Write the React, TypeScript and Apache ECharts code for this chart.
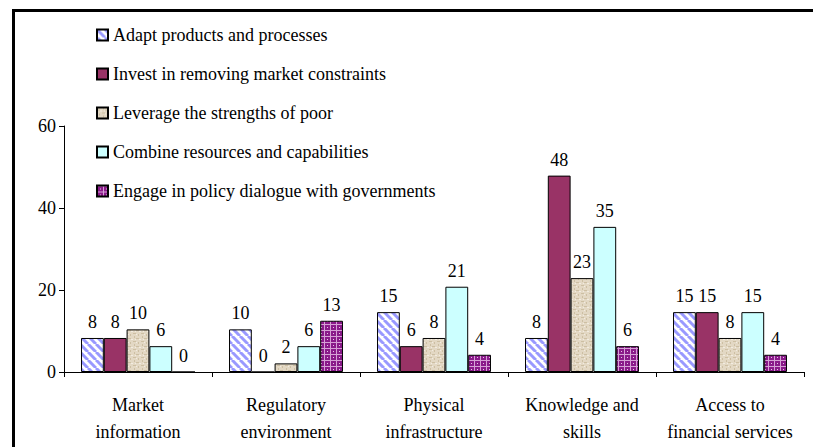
import React, { useEffect, useRef } from "react";
import * as echarts from "echarts";

const categories = [
  "Market\ninformation",
  "Regulatory\nenvironment",
  "Physical\ninfrastructure",
  "Knowledge and\nskills",
  "Access to\nfinancial services",
];

const seriesNames = [
  "Adapt products and processes",
  "Invest in removing market constraints",
  "Leverage the strengths of poor",
  "Combine resources and capabilities",
  "Engage in policy dialogue with governments",
];

const adaptValues = [8.3, 10.4, 14.6, 8.3, 14.6];
const investValues = [8.3, 0, 6.3, 47.9, 14.6];
const leverageValues = [10.4, 2.1, 8.3, 22.9, 8.3];
const combineValues = [6.3, 6.3, 20.8, 35.4, 14.6];
const engageValues = [0, 12.5, 4.2, 6.3, 4.2];

const yTicks = { min: 0, max: 60, interval: 20 };

const FONT = "Liberation Serif, DejaVu Serif, serif";

function makeCanvas(w: number, h: number, draw: (c: CanvasRenderingContext2D) => void) {
  const cv = document.createElement("canvas");
  cv.width = w;
  cv.height = h;
  const ctx = cv.getContext("2d")!;
  draw(ctx);
  return cv;
}

function stripePattern() {
  const n = 8;
  const cv = makeCanvas(n, n, (c) => {
    c.fillStyle = "#ffffff";
    c.fillRect(0, 0, n, n);
    c.strokeStyle = "#9999ff";
    c.lineWidth = 3;
    for (const x0 of [-n, 0, n]) {
      c.beginPath();
      c.moveTo(x0, 0);
      c.lineTo(x0 + n, n);
      c.stroke();
    }
  });
  return { image: cv, repeat: "repeat", imageWidth: n, imageHeight: n };
}

function texturePattern() {
  const n = 8;
  const cv = makeCanvas(n, n, (c) => {
    c.fillStyle = "#e3d8c4";
    c.fillRect(0, 0, n, n);
    c.fillStyle = "#cdbfa3";
    c.fillRect(0, 2, 3, 1);
    c.fillRect(5, 5, 3, 1);
    c.fillRect(2, 6, 1, 2);
    c.fillRect(6, 0, 1, 2);
    c.fillStyle = "#f2ece1";
    c.fillRect(3, 3, 2, 1);
    c.fillRect(0, 6, 1, 1);
    c.fillRect(7, 3, 1, 1);
  });
  return { image: cv, repeat: "repeat", imageWidth: n, imageHeight: n };
}

function dotPattern() {
  const n = 6;
  const cv = makeCanvas(n, n, (c) => {
    c.fillStyle = "#8a1a8a";
    c.fillRect(0, 0, n, n);
    c.fillStyle = "#d6a0d6";
    c.fillRect(0, 0, n, 1);
    c.fillRect(0, 0, 1, n);
    c.fillStyle = "#e8c4e8";
    c.fillRect(3, 3, 1, 1);
  });
  return { image: cv, repeat: "repeat", imageWidth: n, imageHeight: n };
}

export default function App() {
  const ref = useRef<HTMLDivElement>(null);

  useEffect(() => {
    document.body.style.margin = "0";
    const chart = echarts.init(ref.current!, null, { renderer: "svg" });

    const label = {
      show: true,
      position: "top",
      distance: 7,
      color: "#000",
      fontFamily: FONT,
      fontSize: 18,
      formatter: (p: any) => String(Math.round(p.value)),
    };
    const border = { borderColor: "#000", borderWidth: 1 };

    const fills: any[] = [
      stripePattern(),
      "#993366",
      texturePattern(),
      "#ccffff",
      dotPattern(),
    ];
    const data = [adaptValues, investValues, leverageValues, combineValues, engageValues];

    const series: any[] = seriesNames.map((name, i) => ({
      name,
      type: "bar",
      data: data[i],
      barGap: "0%",
      barCategoryGap: "23%",
      itemStyle: { color: fills[i], ...border },
      label,
    }));

    chart.setOption({
      animation: false,
      backgroundColor: "#ffffff",
      textStyle: { fontFamily: FONT },
      grid: { left: 64, right: 9, top: 126, bottom: 75, containLabel: false },
      legend: {
        orient: "vertical",
        left: 96,
        top: 25,
        padding: 0,
        itemGap: 19,
        itemWidth: 11,
        itemHeight: 11,
        icon: "rect",
        selectedMode: false,
        textStyle: { fontFamily: FONT, fontSize: 18, color: "#000", lineHeight: 20 },
        data: seriesNames,
      },
      xAxis: {
        type: "category",
        data: categories,
        axisLine: { lineStyle: { color: "#000", width: 1 } },
        axisTick: { show: true, length: 5, lineStyle: { color: "#000" } },
        axisLabel: {
          color: "#000",
          fontFamily: FONT,
          fontSize: 18,
          lineHeight: 27,
          margin: 19,
          interval: 0,
        },
      },
      yAxis: {
        type: "value",
        min: yTicks.min,
        max: yTicks.max,
        interval: yTicks.interval,
        axisLine: { show: true, lineStyle: { color: "#000", width: 1 } },
        axisTick: { show: true, length: 5, lineStyle: { color: "#000" } },
        splitLine: { show: false },
        axisLabel: { color: "#000", fontFamily: FONT, fontSize: 18, margin: 8 },
      },
      graphic: [
        { type: "rect", shape: { x: 12, y: 9, width: 801, height: 3 }, style: { fill: "#000" }, silent: true },
        { type: "rect", shape: { x: 12, y: 9, width: 3, height: 438 }, style: { fill: "#000" }, silent: true },
      ],
      series,
    });

    return () => chart.dispose();
  }, []);

  return <div ref={ref} style={{ width: 813, height: 447 }} />;
}
